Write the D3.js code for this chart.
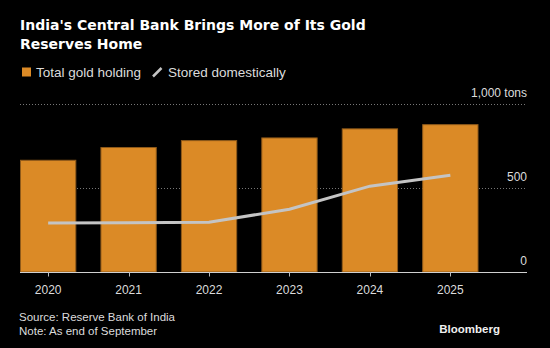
<!DOCTYPE html>
<html>
<head>
<meta charset="utf-8">
<script src="https://cdn.jsdelivr.net/npm/d3@7"></script>
<style>
  html, body { margin: 0; padding: 0; background: #000; }
  svg { display: block; }
  .tick-label { font-family: "Liberation Sans", Arial, sans-serif; font-size: 12px; fill: #dcdcdc; }
</style>
</head>
<body>
<svg id="chart" width="550" height="348"></svg>
<script>
// Gold reserves, tons, as of end of September
const years = ["2020", "2021", "2022", "2023", "2024", "2025"];
const totalHolding = [668, 744, 785, 801, 855, 880];
const storedDomestic = [292, 293, 296, 374, 511, 576];
const yTicks = [0, 500, 1000];
const yTickText = ["0", "500", "1,000 tons"];

const width = 550, height = 348;
const plotLeft = 20, plotRight = 478.5, axisRight = 527;
const plotTop = 104, plotBottom = 272;

const svg = d3.select("#chart");

svg.append("rect")
    .attr("width", width)
    .attr("height", height)
    .attr("fill", "#000");

const x = d3.scaleBand()
    .domain(years)
    .range([plotLeft, plotRight])
    .paddingInner(0.3)
    .paddingOuter(0);

const y = d3.scaleLinear()
    .domain([0, 1000])
    .range([plotBottom, plotTop]);

// Title
const title = svg.append("text")
    .attr("x", 20)
    .attr("font-family", "DejaVu Sans, Verdana, sans-serif")
    .attr("font-weight", "bold")
    .attr("font-size", "14px")
    .attr("fill", "#fff");
title.append("tspan").attr("x", 20).attr("y", 30).text("India's Central Bank Brings More of Its Gold");
title.append("tspan").attr("x", 20).attr("y", 49).text("Reserves Home");

// Legend
const legend = svg.append("g")
    .attr("font-family", "Liberation Sans, Arial, sans-serif")
    .attr("font-size", "13.5px")
    .attr("fill", "#dcdcdc");
legend.append("rect")
    .attr("x", 22).attr("y", 67.5)
    .attr("width", 9).attr("height", 9)
    .attr("fill", "#db8a26");
legend.append("text").attr("x", 36).attr("y", 77).text("Total gold holding");
legend.append("line")
    .attr("x1", 153).attr("y1", 76.5)
    .attr("x2", 161.5).attr("y2", 68)
    .attr("stroke", "#c4c4c4")
    .attr("stroke-width", 2.5);
legend.append("text").attr("x", 168).attr("y", 77).text("Stored domestically");

// Dotted gridlines (the zero line is drawn as the axis)
svg.append("g")
    .selectAll("line")
    .data(yTicks.filter(d => d > 0))
    .enter().append("line")
    .attr("x1", plotLeft)
    .attr("x2", axisRight)
    .attr("y1", d => Math.round(y(d)) + 0.5)
    .attr("y2", d => Math.round(y(d)) + 0.5)
    .attr("stroke", "#777")
    .attr("stroke-width", 1)
    .attr("stroke-dasharray", "1,2");

// Y labels sit above their gridlines, right aligned
svg.append("g")
    .selectAll("text")
    .data(yTicks)
    .enter().append("text")
    .attr("class", "tick-label")
    .attr("x", axisRight)
    .attr("y", d => y(d) - 7)
    .attr("text-anchor", "end")
    .text((d, i) => yTickText[i]);

// Bars
svg.append("g")
    .selectAll("rect")
    .data(years)
    .enter().append("rect")
    .attr("x", d => x(d) + 0.5)
    .attr("y", (d, i) => y(totalHolding[i]) + 0.5)
    .attr("width", x.bandwidth() - 1)
    .attr("height", (d, i) => plotBottom - y(totalHolding[i]) - 0.5)
    .attr("fill", "#db8a26")
    .attr("stroke", "#8f5a1a")
    .attr("stroke-width", 1);

// Domestic storage line
const line = d3.line()
    .x((d, i) => x(years[i]) + x.bandwidth() / 2)
    .y(d => y(d));

svg.append("path")
    .datum(storedDomestic)
    .attr("d", line)
    .attr("fill", "none")
    .attr("stroke", "#c4c4c4")
    .attr("stroke-width", 3);

// X axis
const xAxis = svg.append("g")
    .attr("transform", `translate(0,${plotBottom + 0.5})`);
xAxis.append("line")
    .attr("x1", plotLeft)
    .attr("x2", axisRight)
    .attr("stroke", "#d0d0d0");
xAxis.selectAll(".tick")
    .data(years)
    .enter().append("line")
    .attr("x1", d => Math.round(x(d) + x.bandwidth() / 2) + 0.5)
    .attr("x2", d => Math.round(x(d) + x.bandwidth() / 2) + 0.5)
    .attr("y1", 0)
    .attr("y2", 4)
    .attr("stroke", "#bbb");
xAxis.selectAll("text")
    .data(years)
    .enter().append("text")
    .attr("class", "tick-label")
    .attr("x", d => x(d) + x.bandwidth() / 2)
    .attr("y", 21)
    .attr("text-anchor", "middle")
    .text(d => d);

// Footer
const footer = svg.append("g")
    .attr("font-family", "Liberation Sans, Arial, sans-serif")
    .attr("font-size", "11.5px")
    .attr("fill", "#dcdcdc");
footer.append("text").attr("x", 19).attr("y", 321).text("Source: Reserve Bank of India");
footer.append("text").attr("x", 19).attr("y", 335).text("Note: As end of September");

svg.append("text")
    .attr("x", 500)
    .attr("y", 333)
    .attr("text-anchor", "end")
    .attr("font-family", "Liberation Sans, Arial, sans-serif")
    .attr("font-weight", "bold")
    .attr("font-size", "11.5px")
    .attr("fill", "#f0f0f0")
    .text("Bloomberg");
</script>
</body>
</html>
